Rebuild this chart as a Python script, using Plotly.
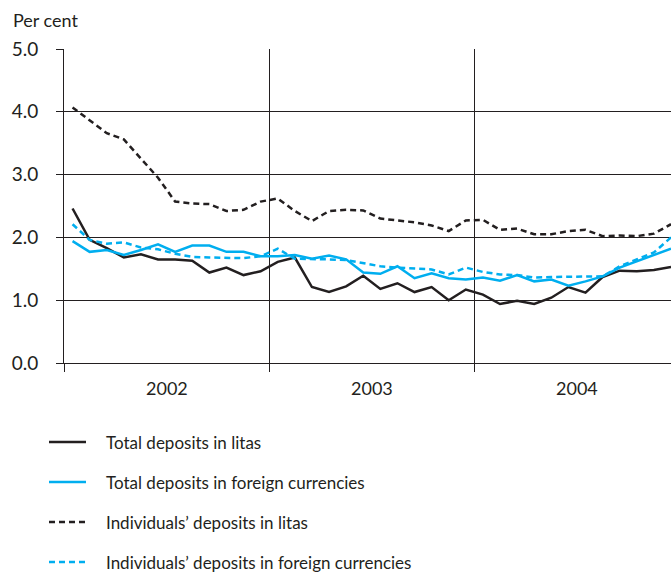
import plotly.graph_objects as go

# ---- data (monthly, Jan 2002 - Dec 2004), per cent ----
years = ["2002", "2003", "2004"]
months_index = list(range(36))
total_litas = [2.46, 1.96, 1.83, 1.68, 1.73, 1.65, 1.65, 1.63, 1.44, 1.52, 1.40, 1.46,
               1.61, 1.68, 1.21, 1.13, 1.22, 1.39, 1.18, 1.27, 1.13, 1.21, 1.00, 1.17,
               1.09, 0.94, 0.99, 0.94, 1.04, 1.21, 1.12, 1.37, 1.47, 1.46, 1.48, 1.53]
total_foreign = [1.94, 1.77, 1.80, 1.72, 1.80, 1.89, 1.77, 1.87, 1.87, 1.77, 1.77, 1.70,
                 1.70, 1.72, 1.66, 1.71, 1.65, 1.44, 1.42, 1.54, 1.35, 1.43, 1.35, 1.33,
                 1.36, 1.31, 1.40, 1.30, 1.33, 1.23, 1.30, 1.38, 1.52, 1.62, 1.71, 1.82]
indiv_litas = [4.07, 3.87, 3.66, 3.56, 3.26, 2.95, 2.57, 2.54, 2.53, 2.42, 2.44, 2.57,
               2.62, 2.42, 2.26, 2.42, 2.44, 2.43, 2.30, 2.27, 2.24, 2.19, 2.10, 2.27,
               2.28, 2.12, 2.14, 2.05, 2.05, 2.10, 2.12, 2.02, 2.03, 2.02, 2.06, 2.21]
indiv_foreign = [2.21, 1.96, 1.90, 1.92, 1.84, 1.81, 1.74, 1.69, 1.68, 1.68, 1.67, 1.70,
                 1.82, 1.66, 1.66, 1.65, 1.64, 1.59, 1.54, 1.52, 1.50, 1.49, 1.41, 1.52,
                 1.45, 1.41, 1.40, 1.36, 1.37, 1.37, 1.37, 1.38, 1.54, 1.65, 1.76, 2.00]
y_ticks = [0, 1, 2, 3, 4, 5]
y_tick_labels = ["0.0", "1.0", "2.0", "3.0", "4.0", "5.0"]
legend_names = ["Total deposits in litas", "Total deposits in foreign currencies",
                "Individuals\u2019 deposits in litas", "Individuals\u2019 deposits in foreign currencies"]

BLACK = "#231f20"
BLUE = "#00aeef"
FONT = "Lato, sans-serif"

W, H = 671, 573
ML, MR, MT, MB = 64, 0, 49, 210
PW, PH = W - ML - MR, H - MT - MB

def px_x(xp):
    return (xp - ML) / PW

def px_y(yp):
    return (H - MB - yp) / PH

x = [m + 0.5 for m in months_index]

series = [
    (total_litas, BLACK, "solid"),
    (total_foreign, BLUE, "solid"),
    (indiv_litas, BLACK, "6px,4px"),
    (indiv_foreign, BLUE, "6px,4px"),
]

fig = go.Figure()
for (vals, col, dash), name in zip(series, legend_names):
    fig.add_trace(go.Scatter(x=x, y=vals, mode="lines", name=name,
                             line=dict(color=col, width=2.5, dash=dash),
                             showlegend=False, hoverinfo="skip"))

shapes = []
annotations = []
for i, ((vals, col, dash), name) in enumerate(zip(series, legend_names)):
    yy = 442 + 40 * i
    shapes.append(dict(type="line", xref="paper", yref="paper",
                       x0=px_x(49), x1=px_x(86), y0=px_y(yy), y1=px_y(yy),
                       line=dict(color=col, width=2.5, dash=dash)))
    annotations.append(dict(xref="paper", yref="paper", x=px_x(104), y=px_y(yy),
                            text=name, showarrow=False, xanchor="left", yanchor="middle",
                            font=dict(family=FONT, size=17, color=BLACK)))

for k, yr in enumerate(years):
    annotations.append(dict(xref="x", yref="paper", x=12 * k + 6, y=px_y(388),
                            text=yr, showarrow=False, xanchor="center", yanchor="middle",
                            font=dict(family=FONT, size=18, color=BLACK)))

annotations.append(dict(xref="paper", yref="paper", x=px_x(11), y=px_y(20),
                        text="Per cent", showarrow=False, xanchor="left", yanchor="middle",
                        font=dict(family=FONT, size=18, color=BLACK)))

fig.update_layout(
    width=W, height=H,
    margin=dict(l=ML, r=MR, t=MT, b=MB, pad=0),
    paper_bgcolor="white", plot_bgcolor="white",
    shapes=shapes, annotations=annotations,
    font=dict(family=FONT, size=18, color=BLACK),
)
fig.update_xaxes(range=[0, 35.5], tickvals=[0, 12, 24, 36], ticktext=["", "", "", ""],
                 showgrid=True, gridcolor=BLACK, gridwidth=1,
                 ticks="outside", ticklen=8, tickcolor=BLACK, tickwidth=1,
                 showline=True, linecolor=BLACK, linewidth=1, zeroline=False)
fig.update_yaxes(range=[0, 5], tickvals=y_ticks, ticktext=y_tick_labels,
                 showgrid=True, gridcolor=BLACK, gridwidth=1,
                 ticks="outside", ticklen=7, tickcolor=BLACK, tickwidth=1,
                 ticklabelstandoff=14,
                 showline=True, linecolor=BLACK, linewidth=1, zeroline=False,
                 tickfont=dict(family=FONT, size=19, color=BLACK))

fig.write_html(
    "out.html",
    config={"displayModeBar": False},
    post_script="document.documentElement.style.overflow='hidden';"
                "document.body.style.margin='0px';document.body.style.overflow='hidden';",
)
